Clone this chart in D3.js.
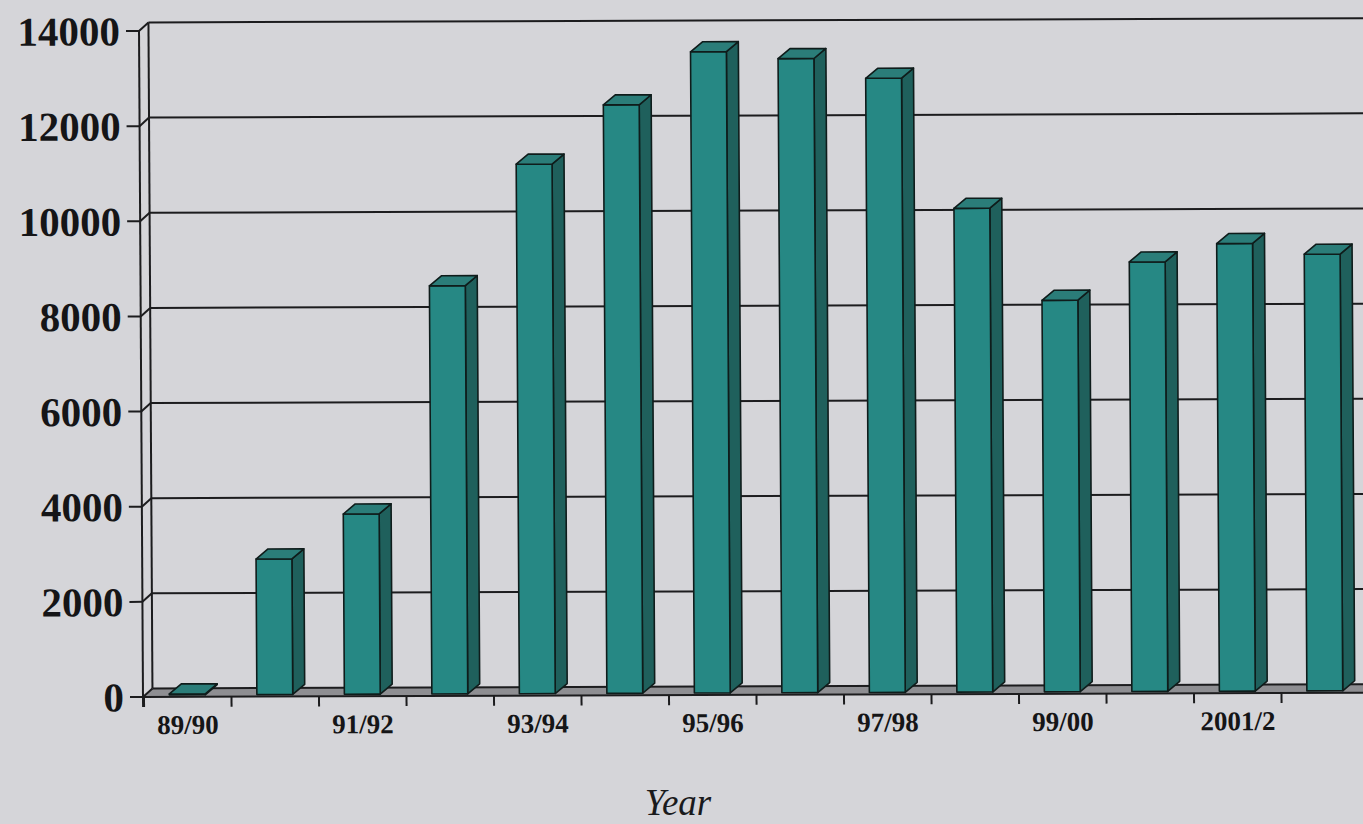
<!DOCTYPE html>
<html>
<head>
<meta charset="utf-8">
<script src="https://cdn.jsdelivr.net/npm/d3@7"></script>
<style>
  html, body { margin: 0; padding: 0; background: #d5d5d9; overflow: hidden; }
  svg { display: block; }
</style>
</head>
<body>
<svg id="chart" width="1363" height="824"></svg>
<script>
// chart data
const categories = ['89/90', '90/91', '91/92', '92/93', '93/94', '94/95', '95/96',
  '96/97', '97/98', '98/99', '99/00', '2000/1', '2001/2', '2002/3'];
const values = [20, 2850, 3790, 8580, 11130, 12370, 13480, 13330, 12910, 10170, 8230, 9030, 9410, 9180];
const xTickLabels = ['89/90', '91/92', '93/94', '95/96', '97/98', '99/00', '2001/2'];
const yTicks = [0, 2000, 4000, 6000, 8000, 10000, 12000, 14000];
const xTitle = 'Year';

const svg = d3.select('#chart');
const W = +svg.attr('width');

// 3d offsets
const wall = {dx: 9.5, dy: -8.5};
const box = {dx: 12, dy: -10};

const x = d3.scaleBand()
  .domain(categories)
  .range([144, 144 + categories.length * 87.5]);
const y = d3.scaleLinear()
  .domain([0, 14000])
  .range([697, 31]);

const bw = x.bandwidth();
const x0 = 143;
const yBase = y(0);

// the photo is slightly tilted, so the whole plot gets a small skew
const g = svg.append('g')
  .attr('transform', `translate(${x0},${yBase}) matrix(1,-0.0035,0.006,1,0,0) translate(${-x0},${-yBase})`);

const ink = '#1c1c1e';
const xEnd = x.range()[1];

// floor
g.append('polygon')
  .attr('points', [
    [x0, yBase], [xEnd + 20, yBase],
    [xEnd + 20 + wall.dx, yBase + wall.dy], [x0 + wall.dx, yBase + wall.dy]
  ].map(p => p.join(',')).join(' '))
  .attr('fill', '#8e8e92')
  .attr('stroke', 'none');

// gridlines: tick, side wall diagonal, back wall line
const grid = g.append('g').attr('stroke', ink).attr('stroke-width', 2).attr('fill', 'none');
yTicks.forEach(t => {
  const yy = y(t);
  grid.append('line')
    .attr('x1', 130).attr('x2', x0)
    .attr('y1', yy).attr('y2', yy);
  grid.append('line')
    .attr('x1', x0).attr('y1', yy)
    .attr('x2', x0 + wall.dx).attr('y2', yy + wall.dy);
  grid.append('line')
    .attr('x1', x0 + wall.dx).attr('x2', W + 40)
    .attr('y1', yy + wall.dy).attr('y2', yy + wall.dy);
});

// front axis and back wall verticals
grid.append('line')
  .attr('x1', x0).attr('x2', x0)
  .attr('y1', y(14000)).attr('y2', yBase + 10);
grid.append('line')
  .attr('x1', x0 + wall.dx).attr('x2', x0 + wall.dx)
  .attr('y1', y(14000) + wall.dy).attr('y2', yBase + wall.dy);
// x axis line (front edge of floor)
grid.append('line')
  .attr('x1', x0).attr('x2', W + 40)
  .attr('y1', yBase).attr('y2', yBase);

// x ticks on category boundaries
categories.forEach(c => {
  grid.append('line')
    .attr('x1', x(c)).attr('x2', x(c))
    .attr('y1', yBase).attr('y2', yBase + 10);
});

// bars
const bars = g.append('g')
  .attr('stroke', '#0f1c1b')
  .attr('stroke-width', 1.6)
  .attr('stroke-linejoin', 'round');

categories.forEach((c, i) => {
  const l = x(c) + bw * 0.29;
  const r = l + bw * 0.41;
  const top = y(values[i]) - 2;
  const bot = yBase - 2;
  const pts = a => a.map(p => p.join(',')).join(' ');

  bars.append('polygon')
    .attr('points', pts([[r, bot], [r + box.dx, bot + box.dy], [r + box.dx, top + box.dy], [r, top]]))
    .attr('fill', '#1f605c');
  bars.append('rect')
    .attr('x', l).attr('y', top)
    .attr('width', r - l).attr('height', Math.max(0, bot - top))
    .attr('fill', '#268884');
  bars.append('polygon')
    .attr('points', pts([[l, top], [l + box.dx, top + box.dy], [r + box.dx, top + box.dy], [r, top]]))
    .attr('fill', '#2b7d79');
});

// y labels
g.append('g')
  .selectAll('text')
  .data(yTicks)
  .join('text')
  .attr('x', 124)
  .attr('y', d => y(d))
  .attr('dy', '0.35em')
  .attr('text-anchor', 'end')
  .attr('font-family', '"Liberation Serif", "Times New Roman", serif')
  .attr('font-weight', 'bold')
  .attr('font-size', 41)
  .attr('fill', '#151517')
  .text(d => d);

// x labels, every other category
g.append('g')
  .selectAll('text')
  .data(xTickLabels)
  .join('text')
  .attr('x', d => x(d) + bw / 2)
  .attr('y', 734)
  .attr('text-anchor', 'middle')
  .attr('font-family', '"Liberation Serif", "Times New Roman", serif')
  .attr('font-weight', 'bold')
  .attr('font-size', 27)
  .attr('fill', '#151517')
  .text(d => d);

svg.append('text')
  .attr('x', 678)
  .attr('y', 815)
  .attr('text-anchor', 'middle')
  .attr('font-family', '"Liberation Serif", "Times New Roman", serif')
  .attr('font-style', 'italic')
  .attr('font-size', 37)
  .attr('fill', '#1a1a1c')
  .text(xTitle);
</script>
</body>
</html>
